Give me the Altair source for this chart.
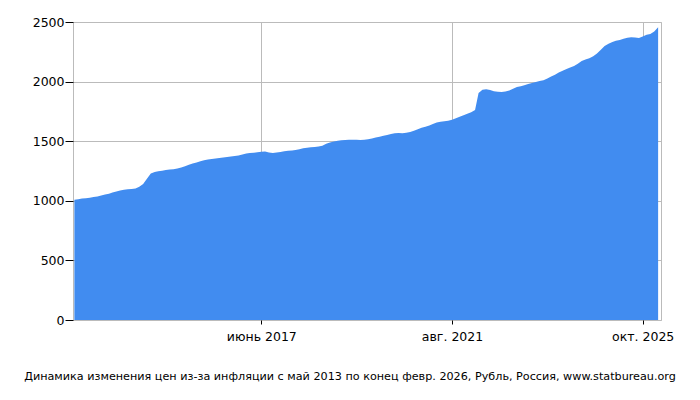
import altair as alt
import pandas as pd

values = [
    1008, 1012, 1020, 1022, 1025, 1031, 1036, 1044, 1052, 1060,
    1069, 1078, 1086, 1092, 1097, 1099, 1104, 1118, 1140, 1185,
    1228, 1242, 1247, 1252, 1258, 1262, 1265, 1270, 1280, 1290,
    1302, 1312, 1322, 1331, 1340, 1346, 1350, 1355, 1359, 1363,
    1368, 1372, 1376, 1381, 1389, 1396, 1400, 1403, 1408, 1412,
    1413, 1405, 1402, 1406, 1410, 1415, 1419, 1422, 1426, 1432,
    1440, 1445, 1449, 1452, 1456, 1462, 1478, 1490, 1498, 1504,
    1508, 1510, 1512, 1513, 1512, 1511, 1513, 1516, 1522, 1530,
    1538, 1546, 1552, 1560, 1566, 1568, 1567, 1570, 1577, 1588,
    1600, 1612, 1622, 1632, 1644, 1656, 1664, 1668, 1672, 1680,
    1692, 1705, 1718, 1730, 1742, 1762, 1905, 1932, 1935, 1930,
    1920, 1914, 1912, 1916, 1925, 1940, 1954, 1962, 1970, 1980,
    1988, 1996, 2004, 2012, 2025, 2042, 2058, 2076, 2092, 2106,
    2118, 2130, 2150, 2172, 2186, 2195, 2212, 2236, 2268, 2298,
    2318, 2332, 2342, 2350, 2360, 2368, 2372, 2370, 2366, 2378,
    2392, 2400, 2420, 2455,
]
dates = pd.date_range("2013-05-01", periods=len(values), freq="MS")
tick_dates = ["2017-06-01", "2021-08-01", "2025-10-01"]
tick_labels = ["июнь 2017", "авг. 2021", "окт. 2025"]
title_text = "Динамика изменения цен из-за инфляции с май 2013 по конец февр. 2026, Рубль, Россия, www.statbureau.org"

df = pd.DataFrame({"date": dates, "value": values})

label_expr = (
    f"month(datum.value) == 5 ? '{tick_labels[0]}' : "
    f"(month(datum.value) == 7 ? '{tick_labels[1]}' : '{tick_labels[2]}')"
)

chart = alt.Chart(df).mark_area(color="#418cf0", opacity=1).encode(
    x=alt.X(
        "date:T",
        scale=alt.Scale(domain=["2013-04-20", "2026-02-24"]),
        axis=alt.Axis(
            title=None,
            values=[pd.Timestamp(d).isoformat() for d in tick_dates],
            labelExpr=label_expr,
            grid=True,
            gridColor="#bbbbbb",
            gridOpacity=1,
            domain=False,
            tickColor="#000000",
            tickSize=4,
            labelFontSize=12.5,
            labelColor="#000000",
            labelPadding=6,
        ),
    ),
    y=alt.Y(
        "value:Q",
        scale=alt.Scale(domain=[0, 2500], nice=False),
        axis=alt.Axis(
            title=None,
            values=[0, 500, 1000, 1500, 2000, 2500],
            format="d",
            grid=True,
            gridColor="#bbbbbb",
            gridOpacity=1,
            domain=False,
            tickColor="#000000",
            tickSize=8,
            labelFontSize=12.5,
            labelColor="#000000",
            labelPadding=1,
        ),
    ),
).properties(
    width=588,
    height=298,
    title=alt.TitleParams(
        title_text,
        orient="bottom",
        anchor="middle",
        fontSize=11.2,
        fontWeight="normal",
        color="#000000",
        offset=28,
        dx=-17,
    ),
    autosize=alt.AutoSizeParams(type="none"),
    padding={"left": 65, "top": 14, "right": 31, "bottom": 70},
).configure(
    font="DejaVu Sans",
).configure_view(
    stroke="#bbbbbb",
    strokeWidth=1,
)

chart.save("out.html", embed_options={"renderer": "svg", "actions": False})
